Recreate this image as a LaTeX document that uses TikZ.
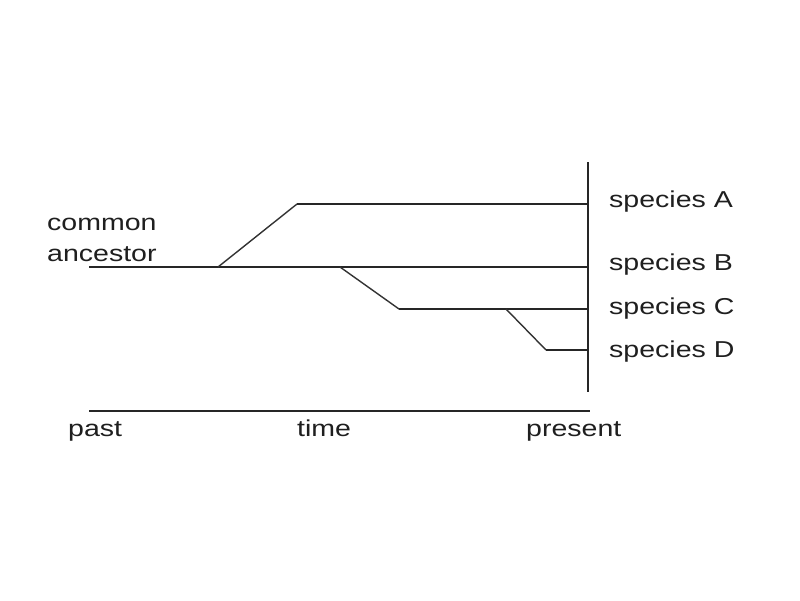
\documentclass[tikz,border=0pt]{standalone}
\usepackage{fontspec}
\setmainfont{Liberation Sans}[FakeStretch=1.24]
\begin{document}
\begin{tikzpicture}[x=1pt,y=-1pt,
  lbl/.style={anchor=base west, inner sep=0pt, font=\fontsize{23}{27}\selectfont, text=black!88},
  branch/.style={line width=2.3pt, draw=black!85},
  diag/.style={line width=1.4pt, draw=black!80},
  axis/.style={line width=2.3pt, draw=black!85}]
\useasboundingbox[fill=white] (0,0) rectangle (800,600);
% junction coordinates
\coordinate (root) at (89,267);
\coordinate (jA) at (218,267);
\coordinate (kA) at (297,204);
\coordinate (eA) at (588,204);
\coordinate (jC) at (340,267);
\coordinate (eB) at (588,267);
\coordinate (kC) at (399,309);
\coordinate (eC) at (588,309);
\coordinate (jD) at (506,309);
\coordinate (kD) at (546,350);
\coordinate (eD) at (588,350);
\coordinate (ptop) at (588,162);
\coordinate (pbot) at (588,392);
\coordinate (tpast) at (89,411);
\coordinate (tnow) at (590,411);
% tree
\draw[branch] (root) -- (eB);
\draw[diag] (jA) -- (kA);
\draw[branch] (kA) -- (eA);
\draw[diag] (jC) -- (kC);
\draw[branch] (kC) -- (eC);
\draw[diag] (jD) -- (kD);
\draw[branch] (kD) -- (eD);
\draw[line width=2.8pt, draw=black!85] (ptop) -- (pbot);
% time axis
\draw[axis] (tpast) -- (tnow);
% labels
\node[lbl] (anc1) at (47,230) {common};
\node[lbl] (anc2) at (47,261) {ancestor};
\node[lbl] (sA) at (609,207) {species A};
\node[lbl] (sB) at (609,270) {species B};
\node[lbl] (sC) at (609,314) {species C};
\node[lbl] (sD) at (609,357) {species D};
\node[lbl] (past) at (68,436) {past};
\node[lbl] (time) at (297,436) {time};
\node[lbl] (present) at (526,436) {present};
\end{tikzpicture}
\end{document}
